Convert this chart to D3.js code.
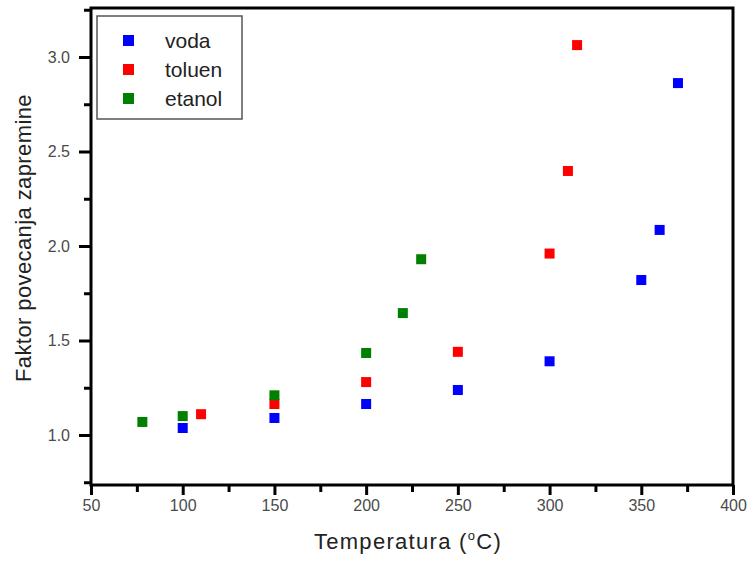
<!DOCTYPE html>
<html>
    <head>
        <script src="https://d3js.org/d3.v7.min.js"></script>
        <style>
            body { margin: 0; background: white; }
            text { font-family: "Liberation Sans", Arial, sans-serif; }
        </style>
    </head>
    <body>
        <svg width="751" height="561"></svg>

        <script>
            // data
            const series = ["voda", "toluen", "etanol"];
            const colors = ["#0000ff", "#ff0000", "#008000"];

            const vodaT = [100, 150, 200, 250, 300, 350, 360, 370];
            const vodaF = [1.037, 1.09, 1.164, 1.238, 1.39, 1.82, 2.085, 2.862];

            const toluenT = [110, 150, 200, 250, 300, 310, 315];
            const toluenF = [1.11, 1.164, 1.28, 1.44, 1.96, 2.397, 3.063];

            const etanolT = [78, 100, 150, 200, 220, 230];
            const etanolF = [1.069, 1.10, 1.21, 1.434, 1.645, 1.93];

            const xTicks = [50, 100, 150, 200, 250, 300, 350, 400];
            const yTicks = [1.0, 1.5, 2.0, 2.5, 3.0];

            const svg = d3.select("svg");

            const mLeft = 91, mRight = 733, mTop = 8, mBottom = 485;

            const x = d3.scaleLinear().domain([50, 400]).range([mLeft, mRight]);
            const y = d3.scaleLinear().domain([0.7354, 3.2593]).range([mBottom, mTop]);

            const data = [
                vodaT.map((t, i) => ({ s: 0, t: t, f: vodaF[i] })),
                toluenT.map((t, i) => ({ s: 1, t: t, f: toluenF[i] })),
                etanolT.map((t, i) => ({ s: 2, t: t, f: etanolF[i] }))
            ];

            // minor ticks
            svg.append("g")
                .attr("transform", `translate(0,${mBottom})`)
                .call(d3.axisBottom(x).tickValues(d3.range(75, 400, 50)).tickSize(7).tickFormat(""))
                .call(g => g.select(".domain").remove())
                .selectAll("line").attr("stroke-width", 3);
            svg.append("g")
                .attr("transform", `translate(${mLeft},0)`)
                .call(d3.axisLeft(y).tickValues([0.75, 1.25, 1.75, 2.25, 2.75, 3.25]).tickSize(7).tickFormat(""))
                .call(g => g.select(".domain").remove())
                .selectAll("line").attr("stroke-width", 3);

            // major ticks + labels
            const xa = svg.append("g")
                .attr("transform", `translate(0,${mBottom})`)
                .call(d3.axisBottom(x).tickValues(xTicks).tickSize(10).tickPadding(5))
                .call(g => g.select(".domain").remove());
            xa.selectAll("line").attr("stroke-width", 3);
            xa.selectAll("text").attr("font-size", 16).attr("fill", "#4a4a4a")
                .style("font-family", "Liberation Sans, Arial, sans-serif");

            const ya = svg.append("g")
                .attr("transform", `translate(${mLeft},0)`)
                .call(d3.axisLeft(y).tickValues(yTicks).tickSize(12).tickPadding(9).tickFormat(d3.format(".1f")))
                .call(g => g.select(".domain").remove());
            ya.selectAll("line").attr("stroke-width", 3);
            ya.selectAll("text").attr("font-size", 16).attr("fill", "#4a4a4a")
                .style("font-family", "Liberation Sans, Arial, sans-serif");

            // frame
            svg.append("rect")
                .attr("x", mLeft).attr("y", mTop)
                .attr("width", mRight - mLeft).attr("height", mBottom - mTop)
                .attr("fill", "none").attr("stroke", "black").attr("stroke-width", 3);

            // points
            const size = 10;
            svg.append("g")
                .selectAll("g")
                .data(data)
                .join("g")
                .attr("fill", (d, i) => colors[i])
                .selectAll("rect")
                .data(d => d)
                .join("rect")
                .attr("x", d => x(d.t) - size / 2)
                .attr("y", d => y(d.f) - size / 2)
                .attr("width", size)
                .attr("height", size);

            // legend
            const legend = svg.append("g");
            legend.append("rect")
                .attr("x", 97).attr("y", 16).attr("width", 145).attr("height", 103)
                .attr("fill", "white").attr("stroke", "#555").attr("stroke-width", 1.5);
            series.forEach((name, i) => {
                legend.append("rect")
                    .attr("x", 123).attr("y", 35 + i * 29).attr("width", 11).attr("height", 11)
                    .attr("fill", colors[i]);
                legend.append("text")
                    .attr("x", 165).attr("y", 48 + i * 29)
                    .attr("font-size", 21).attr("fill", "#222")
                    .text(name);
            });

            // axis titles
            const xt = svg.append("text")
                .attr("x", 408).attr("y", 549)
                .attr("text-anchor", "middle")
                .attr("font-size", 22).attr("fill", "#222")
                .style("letter-spacing", "1.3px")
                .text("Temperatura (");
            xt.append("tspan").attr("font-size", 13).attr("dy", -9).text("o");
            xt.append("tspan").attr("dy", 9).text("C)");

            svg.append("text")
                .attr("transform", `translate(31,238) rotate(-90)`)
                .attr("text-anchor", "middle")
                .attr("font-size", 22).attr("fill", "#222")
                .style("letter-spacing", "0.4px")
                .text("Faktor povecanja zapremine");
        </script>
    </body>
</html>
